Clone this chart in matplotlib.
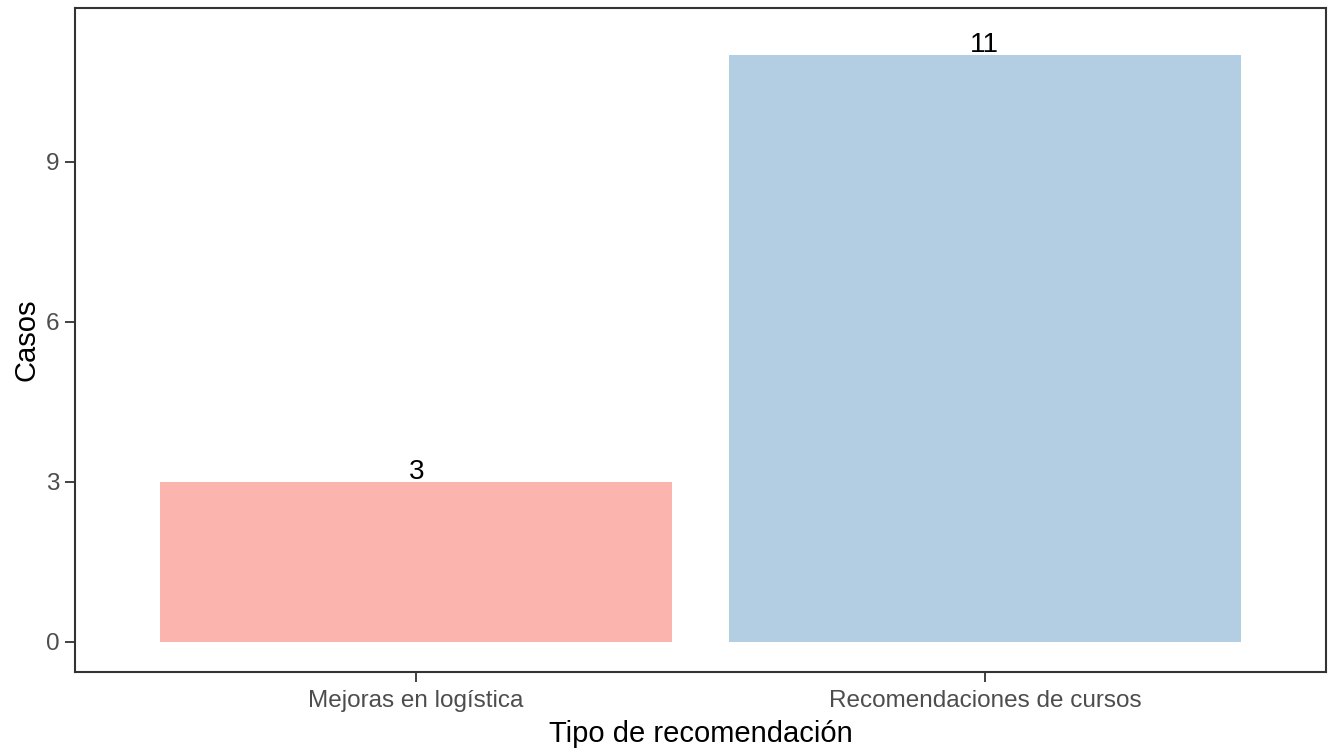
import matplotlib
matplotlib.use("Agg")
import matplotlib.pyplot as plt

categories = ["Mejoras en logística", "Recomendaciones de cursos"]
values = [3, 11]
colors = ["#FBB4AE", "#B3CDE3"]
yticks = [0, 3, 6, 9]

plt.rcParams['font.family'] = ['Liberation Sans', 'DejaVu Sans']

W, H = 1335, 754
fig = plt.figure(figsize=(W / 100, H / 100), dpi=100)
ax = fig.add_axes([75 / W, (H - 672) / H, (1326 - 75) / W, (672 - 8) / H])

x = list(range(1, len(categories) + 1))
ax.bar(x, values, width=0.9, color=colors, zorder=2)
for xi, v in zip(x, values):
    ax.annotate(str(v), (xi, v), xytext=(0, 3), textcoords='offset pixels',
                ha='center', va='baseline', fontsize=20, color='black')

ax.set_xlim(0.4, 2.6)
ax.set_ylim(-0.568, 11.88)
ax.set_xticks(x)
ax.set_xticklabels(categories)
ax.set_yticks(yticks)
ax.set_yticklabels([str(t) for t in yticks])

for s in ax.spines.values():
    s.set_color('#333333')
    s.set_linewidth(1.5)
ax.tick_params(axis='both', colors='#333333', labelcolor='#4D4D4D', labelsize=17.5,
               length=7, width=1.3, pad=4)
ax.tick_params(axis='x', pad=6)
ax.set_xlabel("Tipo de recomendación", fontsize=21, color='black', labelpad=6)
ax.set_ylabel("Casos", fontsize=21, color='black', labelpad=4)

fig.savefig("out.png", dpi=100)
